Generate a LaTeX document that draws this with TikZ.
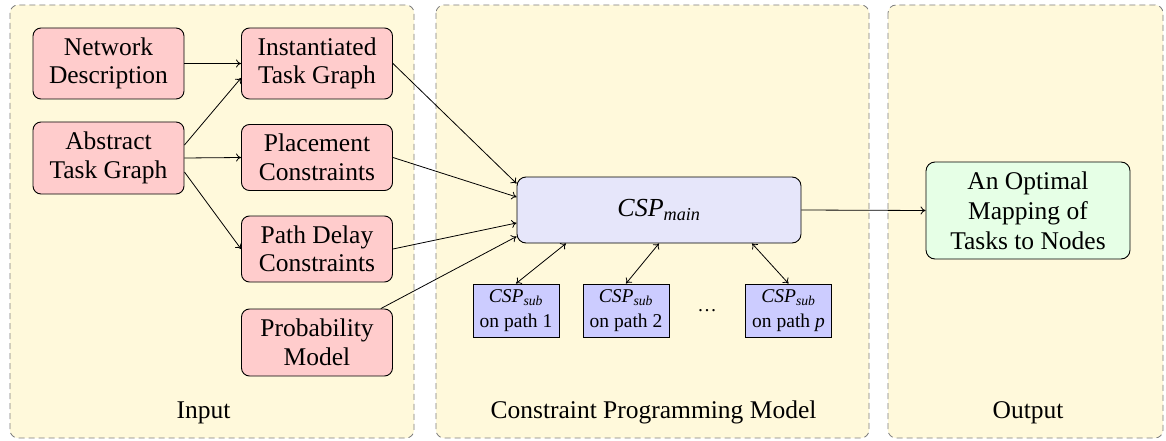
\documentclass[tikz,border=0pt]{standalone}
\usepackage{amsmath}
\usepackage{fontspec}
\setmainfont{Liberation Serif}
\usetikzlibrary{calc,arrows.meta}
\definecolor{panelfill}{RGB}{255,249,219}
\definecolor{panelline}{RGB}{125,125,125}
\definecolor{inpfill}{RGB}{255,204,204}
\definecolor{mainfill}{RGB}{230,230,250}
\definecolor{subfill}{RGB}{204,204,255}
\definecolor{outfill}{RGB}{230,255,230}
\begin{document}
\begin{tikzpicture}[x=1pt,y=-1pt,
  panel/.style={fill=panelfill, draw=panelline, dash pattern=on 6pt off 4pt, line width=0.8pt, rounded corners=8pt},
  inbox/.style={draw, line width=0.9pt, rounded corners=8pt, fill=inpfill, minimum width=151pt, inner sep=0pt, align=center, font=\fontsize{25.5}{28.5}\selectfont},
  mainbox/.style={draw, line width=0.9pt, rounded corners=9pt, fill=mainfill, minimum width=284pt, minimum height=66pt, inner sep=0pt, align=center, font=\fontsize{26}{30}\selectfont},
  subbox/.style={draw, line width=0.9pt, fill=subfill, minimum width=86pt, minimum height=53pt, inner sep=0pt, align=center, font=\fontsize{19.5}{25}\selectfont},
  outbox/.style={draw, line width=0.9pt, rounded corners=9pt, fill=outfill, minimum width=204pt, minimum height=97pt, inner sep=0pt, align=center, font=\fontsize{25.5}{30}\selectfont},
  lab/.style={anchor=base, inner sep=0pt, font=\fontsize{25.5}{30}\selectfont},
  conn/.style={-{To[length=5pt,width=8pt]}, line width=0.8pt},
  conntwo/.style={{To[length=5pt,width=8pt]}-{To[length=5pt,width=8pt]}, line width=0.8pt}
]
\useasboundingbox (0,0) rectangle (1166,441);
% panels
\draw[panel] (10,5) rectangle (414,438);
\draw[panel] (436,5) rectangle (869,438);
\draw[panel] (888,5) rectangle (1163,438);
% input nodes
\node[inbox, minimum height=71pt] (net) at (108.5,63.5) {Network\\Description};
\node[inbox, minimum height=71pt] (inst) at (317,63.5) {Instantiated\\Task Graph};
\node[inbox, minimum height=72pt] (abs) at (108.5,158) {Abstract\\Task Graph};
\node[inbox, minimum height=66pt] (place) at (317,157.5) {Placement\\Constraints};
\node[inbox, minimum height=66pt] (delay) at (317,249) {Path Delay\\Constraints};
\node[inbox, minimum height=67pt] (prob) at (317,342.5) {Probability\\Model};
% model
\node[mainbox] (main) at (659,210) {\textit{CSP}$_{\textit{main}}$};
\node[subbox] (s1) at (516,310.5) {\textit{CSP}$_{\textit{sub}}$\\on path 1};
\node[subbox] (s2) at (626,310.5) {\textit{CSP}$_{\textit{sub}}$\\on path 2};
\node[subbox] (s3) at (788.5,310.5) {\textit{CSP}$_{\textit{sub}}$\\on path \textit{p}};
\node[font=\fontsize{19.5}{25}\selectfont, inner sep=0pt] (dots) at (707,311) {\dots};
% output
\node[outbox] (out) at (1028,210.5) {An Optimal\\Mapping of\\Tasks to Nodes};
% labels
\node[lab] (lin) at (203.5,418) {Input};
\node[lab] (lmod) at (653.5,418) {Constraint Programming Model};
\node[lab] (lout) at (1028,418) {Output};
% connectors
\draw[conn] (net.east) -- (inst.west);
\draw[conn] ($(abs.east)+(0,-13)$) -- ($(inst.west)+(0,14.5)$);
\draw[conn] (abs.east) -- (place.west);
\draw[conn] ($(abs.east)+(0,14)$) -- (delay.west);
\draw[conn] (inst.east) -- ($(main.west)+(0,-26.5)$);
\draw[conn] (place.east) -- ($(main.west)+(0,-13)$);
\draw[conn] (delay.east) -- ($(main.west)+(0,13)$);
\draw[conn] (prob) -- ($(main.west)+(0,26.5)$);
\draw[conn] (main.east) -- (out.west);
\draw[conntwo] (s1.north) -- ($(main.south)+(-93,0)$);
\draw[conntwo] (s2.north) -- (main.south);
\draw[conntwo] (s3.north) -- ($(main.south)+(93,0)$);
\end{tikzpicture}
\end{document}
